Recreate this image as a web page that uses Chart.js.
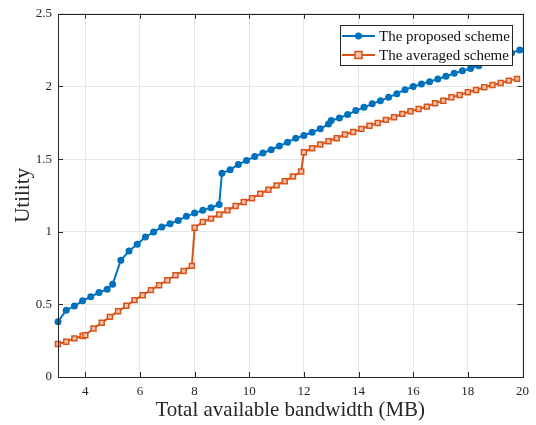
<!DOCTYPE html>
<html>
<head>
<meta charset="utf-8">
<script src="https://cdn.jsdelivr.net/npm/chart.js@4.4.0/dist/chart.umd.min.js"></script>
<style>
  body { margin: 0; background: #fff; }
</style>
</head>
<body>
<canvas id="utilityChart" width="536" height="425"></canvas>
<script>
// values
var proposedX = [3.0, 3.3, 3.6, 3.9, 4.2, 4.5, 4.8,
    5.0, 5.3, 5.6, 5.9, 6.2, 6.5, 6.8, 7.1, 7.4, 7.7, 8.0, 8.3, 8.6, 8.9,
    9.0, 9.3, 9.6, 9.9, 10.2, 10.5, 10.8, 11.1, 11.4, 11.7, 12.0, 12.3, 12.6, 12.9,
    13.0, 13.3, 13.6, 13.9, 14.2, 14.5, 14.8, 15.1, 15.4, 15.7, 16.0, 16.3, 16.6, 16.9,
    17.2, 17.5, 17.8, 18.1, 18.4, 18.7, 19.0, 19.3, 19.6, 19.9];
var proposedUtility = [0.380, 0.460, 0.488, 0.524, 0.552, 0.582, 0.604,
    0.639, 0.804, 0.867, 0.913, 0.964, 0.998, 1.032, 1.055, 1.078, 1.106, 1.128, 1.147, 1.165, 1.188,
    1.403, 1.426, 1.463, 1.490, 1.518, 1.541, 1.564, 1.590, 1.615, 1.644, 1.662, 1.685, 1.708, 1.742,
    1.765, 1.783, 1.806, 1.834, 1.856, 1.880, 1.902, 1.925, 1.950, 1.978, 1.999, 2.017, 2.033, 2.051,
    2.070, 2.090, 2.108, 2.124, 2.143, 2.165, 2.185, 2.207, 2.230, 2.250];

var averagedX = [3.0, 3.3, 3.6, 3.9,
    4.0, 4.3, 4.6, 4.9, 5.2, 5.5, 5.8, 6.1, 6.4, 6.7, 7.0, 7.3, 7.6, 7.9,
    8.0, 8.3, 8.6, 8.9, 9.2, 9.5, 9.8, 10.1, 10.4, 10.7, 11.0, 11.3, 11.6, 11.9,
    12.0, 12.3, 12.6, 12.9, 13.2, 13.5, 13.8, 14.1, 14.4, 14.7, 15.0, 15.3, 15.6, 15.9,
    16.2, 16.5, 16.8, 17.1, 17.4, 17.7, 18.0, 18.3, 18.6, 18.9, 19.2, 19.5, 19.8];
var averagedUtility = [0.227, 0.243, 0.266, 0.282,
    0.288, 0.334, 0.373, 0.414, 0.453, 0.490, 0.529, 0.563, 0.598, 0.632, 0.666, 0.701, 0.730, 0.765,
    1.028, 1.067, 1.090, 1.119, 1.147, 1.177, 1.204, 1.231, 1.261, 1.289, 1.319, 1.348, 1.380, 1.415,
    1.547, 1.575, 1.600, 1.623, 1.644, 1.669, 1.687, 1.708, 1.729, 1.749, 1.770, 1.788, 1.811, 1.829,
    1.845, 1.861, 1.884, 1.902, 1.925, 1.941, 1.960, 1.976, 1.994, 2.010, 2.024, 2.040, 2.052];

var seriesNames = ["The proposed scheme", "The averaged scheme"];
var xTicks = [4, 6, 8, 10, 12, 14, 16, 18, 20];
var yTicks = [0, 0.5, 1, 1.5, 2, 2.5];

var axisColor = '#262626';
var serif = '"Liberation Serif", "Times New Roman", serif';

function toPoints(xs, ys) {
    var out = [];
    for (var i = 0; i < xs.length; i++) {
        out.push({ x: xs[i], y: ys[i] });
    }
    return out;
}

// box round the plot + inward ticks, like matlab
var framePlugin = {
    id: 'frame',
    afterDraw: function (chart) {
        var ctx = chart.ctx;
        var a = chart.chartArea;
        var sx = chart.scales.x, sy = chart.scales.y;
        ctx.save();
        ctx.strokeStyle = axisColor;
        ctx.lineWidth = 1;
        ctx.beginPath();
        xTicks.forEach(function (v) {
            var px = Math.round(sx.getPixelForValue(v)) + 0.5;
            ctx.moveTo(px, a.bottom); ctx.lineTo(px, a.bottom - 5);
            ctx.moveTo(px, a.top); ctx.lineTo(px, a.top + 5);
        });
        yTicks.forEach(function (v) {
            var py = Math.round(sy.getPixelForValue(v)) + 0.5;
            ctx.moveTo(a.left, py); ctx.lineTo(a.left + 5, py);
            ctx.moveTo(a.right, py); ctx.lineTo(a.right - 5, py);
        });
        ctx.stroke();
        ctx.strokeRect(Math.round(a.left) + 0.5, Math.round(a.top) + 0.5,
            Math.round(a.right - a.left), Math.round(a.bottom - a.top));
        ctx.restore();
    }
};

// legend box inside the axes, top right
var boxLegend = {
    id: 'boxLegend',
    afterDraw: function (chart) {
        var ctx = chart.ctx;
        var a = chart.chartArea;
        var w = 173, h = 41;
        var left = Math.round(a.right - 10 - w), top = Math.round(a.top + 11);
        ctx.save();
        ctx.fillStyle = '#fff';
        ctx.fillRect(left, top, w, h);
        ctx.strokeStyle = axisColor;
        ctx.lineWidth = 1;
        ctx.strokeRect(left + 0.5, top + 0.5, w - 1, h - 1);
        chart.data.datasets.forEach(function (ds, i) {
            var y = top + 11 + i * 19;
            ctx.strokeStyle = ds.borderColor;
            ctx.lineWidth = 2;
            ctx.beginPath();
            ctx.moveTo(left + 2, y);
            ctx.lineTo(left + 35, y);
            ctx.stroke();
            var mx = left + 18.5;
            if (ds.pointStyle === 'rect') {
                ctx.fillStyle = ds.pointBackgroundColor;
                ctx.fillRect(mx - 3.5, y - 3.5, 7, 7);
                ctx.lineWidth = 1.5;
                ctx.strokeRect(mx - 3.5, y - 3.5, 7, 7);
            } else {
                ctx.fillStyle = ds.pointBackgroundColor;
                ctx.beginPath();
                ctx.arc(mx, y, 3.5, 0, Math.PI * 2);
                ctx.fill();
            }
            ctx.fillStyle = '#111';
            ctx.font = '15px ' + serif;
            ctx.textBaseline = 'middle';
            ctx.fillText(ds.label, left + 39, y + 1);
        });
        ctx.restore();
    }
};

var ctx = document.getElementById('utilityChart');
var utilityChart = new Chart(ctx, {
    type: 'line',
    data: {
        datasets: [{
            label: seriesNames[0],
            data: toPoints(proposedX, proposedUtility),
            borderColor: '#0072BD',
            backgroundColor: '#0072BD',
            pointBackgroundColor: '#0072BD',
            pointBorderColor: '#0072BD',
            pointStyle: 'circle',
            pointRadius: 3.5,
            pointBorderWidth: 0,
            borderWidth: 2,
            tension: 0,
            clip: 8
        }, {
            label: seriesNames[1],
            data: toPoints(averagedX, averagedUtility),
            borderColor: '#D95319',
            backgroundColor: '#D95319',
            pointBackgroundColor: '#F4C2AA',
            pointBorderColor: '#D95319',
            pointStyle: 'rect',
            pointRadius: 3.5,
            pointBorderWidth: 1.5,
            borderWidth: 2,
            tension: 0,
            clip: 8
        }]
    },
    options: {
        responsive: false,
        animation: { duration: 0 },
        layout: { padding: { top: 13, right: 10, left: 0, bottom: 0 } },
        scales: {
            x: {
                type: 'linear',
                min: 3,
                max: 20,
                afterBuildTicks: function (scale) {
                    scale.ticks = xTicks.map(function (v) { return { value: v }; });
                },
                afterFit: function (scale) { scale.height = 48; },
                grid: { color: '#e6e6e6', drawTicks: false },
                border: { display: false },
                ticks: {
                    padding: 7,
                    color: axisColor,
                    font: { family: serif, size: 13 },
                    maxRotation: 0,
                    autoSkip: false,
                    callback: function (v) { return String(v); }
                },
                title: {
                    display: true,
                    text: 'Total available bandwidth (MB)',
                    color: axisColor,
                    font: { family: serif, size: 21 },
                    padding: { top: 0, bottom: 2 }
                }
            },
            y: {
                type: 'linear',
                min: 0,
                max: 2.5,
                afterBuildTicks: function (scale) {
                    scale.ticks = yTicks.map(function (v) { return { value: v }; });
                },
                afterFit: function (scale) { scale.width = 58; },
                grid: { color: '#e6e6e6', drawTicks: false },
                border: { display: false },
                ticks: {
                    padding: 6,
                    color: axisColor,
                    font: { family: serif, size: 13 },
                    autoSkip: false,
                    callback: function (v) { return String(v); }
                },
                title: {
                    display: true,
                    text: 'Utility',
                    color: axisColor,
                    font: { family: serif, size: 21 },
                    padding: { top: 11, bottom: 0 }
                }
            }
        },
        plugins: {
            legend: { display: false },
            tooltip: { enabled: false }
        }
    },
    plugins: [framePlugin, boxLegend]
});
</script>
</body>
</html>
